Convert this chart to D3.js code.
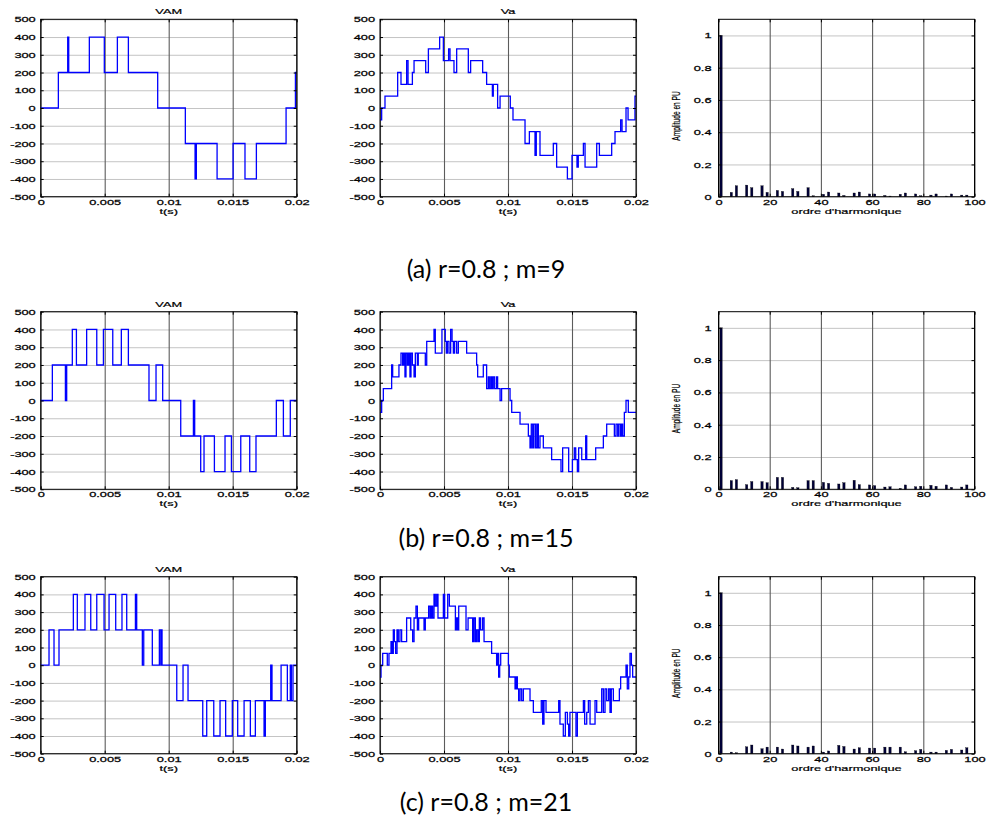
<!DOCTYPE html>
<html>
<head>
<meta charset="utf-8">
<script src="https://cdn.jsdelivr.net/npm/d3@7"></script>
<style>
  body { margin: 0; background: #fff; }
  svg text { font-family: "Liberation Sans", Arial, sans-serif; fill: #000; }
  .caption { font-family: Lato, "Open Sans", sans-serif; }
</style>
</head>
<body>
<div id="graphic"></div>
<script>
// tick values
const waveXTicks = [0, 0.005, 0.01, 0.015, 0.02];
const waveYTicks = [-500, -400, -300, -200, -100, 0, 100, 200, 300, 400, 500];
const specXTicks = [0, 20, 40, 60, 80, 100];
const specYTicks = [0, 0.2, 0.4, 0.6, 0.8, 1];

const captions = ["(a) r=0.8 ; m=9", "(b) r=0.8 ; m=15", "(c) r=0.8 ; m=21"];

// VAM, m=9 : switching instants (s) and levels (V)
const vamAT = [0, 0.00138, 0.00211, 0.00219, 0.0038, 0.00497, 0.00599, 0.00685, 0.00914, 0.0113, 0.01206, 0.01216, 0.01378, 0.01503, 0.01596, 0.01685, 0.01917, 0.0199];
const vamAV = [0, 200, 400, 200, 400, 200, 400, 200, 0, -200, -400, -200, -400, -200, -400, -200, 0, 200];

// Va, m=9
const vaAT = [0, 0.00013, 0.00039, 0.00138, 0.00164, 0.00208, 0.00219, 0.00253, 0.00266, 0.00357, 0.00378, 0.00466, 0.00495, 0.00536, 0.00547, 0.00578, 0.00599, 0.0069, 0.00708, 0.00802, 0.00833, 0.00878, 0.00885, 0.00919, 0.00938, 0.01018, 0.01039, 0.01133, 0.01167, 0.01211, 0.01221, 0.0125, 0.01354, 0.0138, 0.01464, 0.015, 0.01539, 0.01549, 0.01589, 0.01602, 0.01693, 0.01714, 0.0181, 0.01836, 0.0188, 0.01891, 0.01922, 0.01938, 0.01992];
const vaAV = [-66.7, 0, 66.7, 200, 133.3, 266.7, 133.3, 200, 266.7, 200, 333.3, 400, 266.7, 333.3, 266.7, 200, 333.3, 200, 266.7, 200, 133.3, 66.7, 133.3, 0, 66.7, 0, -66.7, -200, -133.3, -266.7, -133.3, -266.7, -200, -333.3, -400, -266.7, -333.3, -266.7, -200, -333.3, -200, -266.7, -200, -133.3, -66.7, -133.3, 0, -66.7, 66.7];

// VAM, m=15
const vamBT = [0, 0.00091, 0.00193, 0.00203, 0.00247, 0.00279, 0.00359, 0.00438, 0.0049, 0.00563, 0.0063, 0.00685, 0.00846, 0.00901, 0.00953, 0.01094, 0.01193, 0.01203, 0.0125, 0.01276, 0.01357, 0.0144, 0.0149, 0.01563, 0.01633, 0.01682, 0.01841, 0.01896, 0.0195];
const vamBV = [0, 200, 0, 200, 400, 200, 400, 200, 400, 200, 400, 200, 0, 200, 0, -200, 0, -200, -400, -200, -400, -200, -400, -200, -400, -200, 0, -200, 0];

// Va, m=15
const vaBT = [0, 0.00013, 0.00026, 0.00091, 0.00099, 0.00148, 0.00164, 0.00177, 0.00185, 0.00195, 0.00203, 0.00214, 0.00224, 0.00234, 0.00242, 0.00253, 0.00266, 0.00276, 0.00292, 0.00299, 0.00354, 0.00365, 0.00422, 0.00432, 0.00484, 0.0051, 0.00518, 0.00526, 0.00539, 0.00552, 0.00563, 0.00573, 0.00583, 0.00599, 0.00612, 0.00677, 0.00755, 0.00763, 0.00807, 0.00833, 0.00846, 0.00854, 0.00865, 0.00875, 0.00885, 0.00896, 0.00911, 0.00919, 0.00938, 0.0095, 0.01016, 0.01029, 0.01094, 0.01159, 0.01172, 0.01182, 0.01193, 0.01203, 0.01216, 0.01227, 0.01237, 0.0125, 0.01276, 0.01341, 0.01414, 0.01427, 0.01474, 0.01503, 0.01518, 0.01529, 0.01542, 0.01552, 0.01576, 0.01607, 0.01615, 0.01685, 0.01745, 0.01771, 0.01831, 0.01844, 0.01857, 0.01867, 0.0188, 0.01888, 0.01896, 0.01909, 0.01922, 0.0194];
const vaBV = [-66.7, 0, 66.7, 200, 133.3, 200, 266.7, 200, 266.7, 133.3, 266.7, 200, 266.7, 133.3, 266.7, 200, 133.3, 266.7, 200, 266.7, 200, 333.3, 400, 266.7, 400, 333.3, 266.7, 333.3, 266.7, 400, 333.3, 266.7, 333.3, 266.7, 333.3, 266.7, 200, 133.3, 200, 66.7, 133.3, 66.7, 133.3, 66.7, 133.3, 66.7, 133.3, 66.7, 0, 66.7, 0, -66.7, -133.3, -200, -266.7, -133.3, -266.7, -133.3, -266.7, -133.3, -266.7, -200, -266.7, -333.3, -400, -266.7, -400, -333.3, -266.7, -333.3, -400, -266.7, -333.3, -200, -333.3, -266.7, -200, -133.3, -200, -133.3, -200, -133.3, -200, -133.3, -200, -66.7, 0, -66.7];

// VAM, m=21
const vamCT = [0, 0.00065, 0.00104, 0.00143, 0.00255, 0.00286, 0.00346, 0.00391, 0.00438, 0.00495, 0.00534, 0.00586, 0.00635, 0.00672, 0.0074, 0.0075, 0.00794, 0.00805, 0.00872, 0.00927, 0.00938, 0.00943, 0.00948, 0.01063, 0.01112, 0.01151, 0.01266, 0.01297, 0.01352, 0.01401, 0.01445, 0.01497, 0.01539, 0.01589, 0.01638, 0.01677, 0.01745, 0.01755, 0.01797, 0.01807, 0.01878, 0.01927, 0.0195, 0.01958, 0.01971];
const vamCV = [0, 200, 0, 200, 400, 200, 400, 200, 400, 200, 400, 200, 400, 200, 400, 200, 0, 200, 0, 200, 0, 200, 0, -200, 0, -200, -400, -200, -400, -200, -400, -200, -400, -200, -400, -200, -400, -200, 0, -200, 0, -200, 0, -200, 0];

// Va, m=21
const vaCT = [0, 0.00008, 0.00021, 0.00057, 0.0007, 0.00086, 0.00094, 0.00104, 0.00112, 0.00122, 0.00133, 0.00143, 0.00156, 0.00169, 0.00208, 0.0024, 0.00255, 0.00266, 0.00281, 0.00292, 0.00302, 0.00344, 0.00354, 0.0038, 0.00391, 0.00401, 0.00411, 0.00422, 0.00432, 0.00443, 0.00453, 0.00495, 0.00505, 0.00529, 0.00542, 0.00589, 0.00599, 0.00607, 0.00615, 0.00672, 0.00688, 0.00724, 0.00734, 0.00745, 0.00755, 0.00766, 0.00776, 0.00786, 0.00802, 0.00813, 0.00872, 0.00911, 0.00919, 0.00927, 0.00935, 0.00943, 0.01003, 0.0101, 0.01055, 0.01063, 0.01073, 0.01083, 0.01094, 0.01107, 0.0112, 0.01172, 0.01198, 0.0126, 0.01271, 0.01281, 0.01297, 0.01396, 0.01406, 0.01432, 0.01448, 0.01464, 0.01474, 0.01484, 0.01531, 0.01542, 0.01589, 0.01599, 0.01615, 0.01628, 0.01641, 0.0168, 0.01693, 0.01732, 0.01745, 0.01758, 0.01771, 0.01786, 0.01797, 0.01807, 0.01823, 0.0187, 0.0188, 0.01922, 0.01932, 0.01943, 0.01953, 0.01964, 0.01974];
const vaCV = [-66.7, 0, 66.7, 0, 66.7, 133.3, 66.7, 200, 133.3, 66.7, 200, 133.3, 200, 133.3, 266.7, 200, 133.3, 266.7, 333.3, 200, 266.7, 200, 266.7, 333.3, 266.7, 333.3, 266.7, 400, 333.3, 400, 266.7, 400, 266.7, 400, 333.3, 200, 266.7, 200, 333.3, 200, 266.7, 133.3, 266.7, 133.3, 200, 133.3, 266.7, 200, 266.7, 133.3, 66.7, 0, 66.7, -66.7, 0, 66.7, 0, -66.7, -133.3, -66.7, -133.3, -200, -133.3, -200, -133.3, -200, -266.7, -200, -333.3, -200, -266.7, -200, -333.3, -400, -266.7, -333.3, -400, -266.7, -400, -266.7, -200, -333.3, -266.7, -200, -333.3, -200, -266.7, -133.3, -266.7, -133.3, -200, -133.3, -266.7, -133.3, -200, -133.3, -66.7, 0, -133.3, -66.7, 66.7, 0, -66.7];

// harmonic spectra (orders 6k+-1), amplitude in PU
const harmOrders = [1, 5, 7, 11, 13, 17, 19, 23, 25, 29, 31, 35, 37, 41, 43, 47, 49, 53, 55, 59, 61, 65, 67, 71, 73, 77, 79, 83, 85, 89, 91, 95, 97];
const specA = [1, 0.027, 0.068, 0.072, 0.056, 0.068, 0.027, 0.039, 0.033, 0.05, 0.033, 0.056, 0.006, 0.015, 0.029, 0.023, 0.008, 0.023, 0.029, 0.017, 0.017, 0.008, 0.004, 0.015, 0.023, 0.017, 0.006, 0.01, 0.017, 0.004, 0.017, 0.01, 0.01];
const specB = [1, 0.054, 0.06, 0.029, 0.048, 0.048, 0.041, 0.074, 0.074, 0.012, 0.01, 0.054, 0.054, 0.043, 0.037, 0.033, 0.041, 0.056, 0.029, 0.027, 0.023, 0.014, 0.016, 0.006, 0.027, 0.016, 0.019, 0.025, 0.019, 0.027, 0.012, 0.014, 0.027];
const specC = [1, 0.01, 0.006, 0.043, 0.054, 0.031, 0.041, 0.041, 0.029, 0.054, 0.048, 0.041, 0.048, 0.01, 0.017, 0.052, 0.045, 0.029, 0.037, 0.035, 0.035, 0.041, 0.041, 0.041, 0.012, 0.019, 0.027, 0.01, 0.01, 0.021, 0.027, 0.023, 0.037];

// layout
const colX = [[40.7, 296.7], [380, 636], [718.5, 974.5]];
const rowY = [[19.3, 196.7], [311.7, 489.3], [576.7, 753.7]];
const captionY = [278, 547, 811];
const SX = 1.6; // the figure was stretched sideways, so is the text
const lineColor = "#0000ff";
const barColor = "#000038";

const svg = d3.select("#graphic")
  .append("svg")
  .attr("width", 989)
  .attr("height", 820);

function stretch(sel) {
  sel.each(function() {
    const t = d3.select(this);
    const x = +t.attr("x") || 0;
    t.attr("x", x / SX).attr("transform", `scale(${SX},1)`);
  });
}

function drawFrame(g, x, y, xTicks, yTicks) {
  const [x0, x1] = x.range();
  const [y1, y0] = y.range();

  // grid lines
  g.append("g")
    .attr("class", "grid")
    .attr("transform", `translate(${x0},0)`)
    .call(d3.axisLeft(y).tickValues(yTicks).tickSize(-(x1 - x0)).tickFormat(""))
    .call(s => s.select(".domain").remove())
    .selectAll("line").attr("stroke", "#c4c4c4").attr("stroke-width", 1);

  g.append("g")
    .attr("class", "grid")
    .attr("transform", `translate(0,${y1})`)
    .call(d3.axisBottom(x).tickValues(xTicks).tickSize(-(y1 - y0)).tickFormat(""))
    .call(s => s.select(".domain").remove())
    .selectAll("line").attr("stroke", "#5c5c5c").attr("stroke-width", 1.1);
}

function drawAxes(g, x, y, xTicks, yTicks, xFmt, yFmt, yPad) {
  const [x0, x1] = x.range();
  const [y1, y0] = y.range();

  const left = g.append("g")
    .attr("transform", `translate(${x0},0)`)
    .call(d3.axisLeft(y).tickValues(yTicks).tickSize(-3).tickPadding(yPad).tickFormat(yFmt));
  const bottom = g.append("g")
    .attr("transform", `translate(0,${y1})`)
    .call(d3.axisBottom(x).tickValues(xTicks).tickSize(-3).tickPadding(2.5).tickFormat(xFmt));
  g.append("g")
    .attr("transform", `translate(${x1},0)`)
    .call(d3.axisRight(y).tickValues(yTicks).tickSize(-3).tickFormat(""));
  g.append("g")
    .attr("transform", `translate(0,${y0})`)
    .call(d3.axisTop(x).tickValues(xTicks).tickSize(-3).tickFormat(""));

  g.selectAll(".domain").remove();
  g.selectAll(".tick line").filter(function() { return !this.closest(".grid"); })
    .attr("stroke", "#000");
  [left, bottom].forEach(a => {
    a.selectAll("text")
      .attr("font-size", 8)
      .attr("font-family", "Liberation Sans, Arial, sans-serif")
      .attr("stroke", "#000")
      .attr("stroke-width", 0.25)
      .call(stretch);
  });

  // box
  g.append("rect")
    .attr("x", x0).attr("y", y0)
    .attr("width", x1 - x0).attr("height", y1 - y0)
    .attr("fill", "none").attr("stroke", "#000").attr("stroke-width", 1);
}

function label(g, txt, cx, cy, size) {
  g.append("text")
    .attr("transform", `translate(${cx},${cy}) scale(${SX},1)`)
    .attr("text-anchor", "middle")
    .attr("font-size", size)
    .attr("stroke", "#000")
    .attr("stroke-width", 0.2)
    .text(txt);
}

function drawWave(col, row, title, times, values) {
  const x = d3.scaleLinear().domain([0, 0.02]).range(colX[col]);
  const y = d3.scaleLinear().domain([-500, 500]).range([rowY[row][1], rowY[row][0]]);
  const g = svg.append("g");
  const fmt = d => d === 0 ? "0" : String(d);

  drawFrame(g, x, y, waveXTicks, waveYTicks);

  const data = times.map((t, i) => ({ t: t, v: values[i] }));
  data.push({ t: 0.02, v: values[values.length - 1] });

  const line = d3.line()
    .x(d => x(d.t))
    .y(d => y(d.v))
    .curve(d3.curveStepAfter);

  g.append("path")
    .datum(data)
    .attr("fill", "none")
    .attr("stroke", lineColor)
    .attr("stroke-width", 1.3)
    .attr("d", line);

  drawAxes(g, x, y, waveXTicks, waveYTicks, fmt, fmt, 5);

  const cx = (colX[col][0] + colX[col][1]) / 2;
  label(g, title, cx, rowY[row][0] - 5, 8);
  label(g, "t(s)", cx, rowY[row][1] + 17, 8);
}

function drawSpectrum(col, row, amps) {
  const x = d3.scaleLinear().domain([0, 100]).range(colX[col]);
  const y = d3.scaleLinear().domain([0, 1.1]).range([rowY[row][1], rowY[row][0]]);
  const g = svg.append("g");
  const fmt = d => String(d);

  drawFrame(g, x, y, specXTicks, specYTicks);

  const bw = x(0.9) - x(0);
  g.selectAll("rect.bar")
    .data(harmOrders.map((n, i) => ({ n: n, a: amps[i] })))
    .enter().append("rect")
      .attr("class", "bar")
      .attr("x", d => x(d.n) - bw / 2)
      .attr("y", d => y(d.a))
      .attr("width", bw)
      .attr("height", d => y(0) - y(d.a))
      .attr("fill", barColor)
      .attr("stroke", "#000")
      .attr("stroke-width", 0.3);

  drawAxes(g, x, y, specXTicks, specYTicks, fmt, fmt, 7);

  const cx = (colX[col][0] + colX[col][1]) / 2;
  const cy = (rowY[row][0] + rowY[row][1]) / 2 + 8;
  label(g, "ordre d'harmonique", cx, rowY[row][1] + 17, 8);
  g.append("text")
    .attr("transform", `translate(${colX[col][0] - 39},${cy}) rotate(-90) scale(1,${SX})`)
    .attr("text-anchor", "middle")
    .attr("font-size", 6.6)
    .attr("stroke", "#000")
    .attr("stroke-width", 0.15)
    .text("Amplitude en PU");
}

drawWave(0, 0, "VAM", vamAT, vamAV);
drawWave(1, 0, "Va", vaAT, vaAV);
drawSpectrum(2, 0, specA);
drawWave(0, 1, "VAM", vamBT, vamBV);
drawWave(1, 1, "Va", vaBT, vaBV);
drawSpectrum(2, 1, specB);
drawWave(0, 2, "VAM", vamCT, vamCV);
drawWave(1, 2, "Va", vaCT, vaCV);
drawSpectrum(2, 2, specC);

svg.selectAll("text.caption")
  .data(captions)
  .enter().append("text")
    .attr("class", "caption")
    .attr("x", 486)
    .attr("y", (d, i) => captionY[i])
    .attr("text-anchor", "middle")
    .attr("font-size", 25)
    .text(d => d);
</script>
</body>
</html>
